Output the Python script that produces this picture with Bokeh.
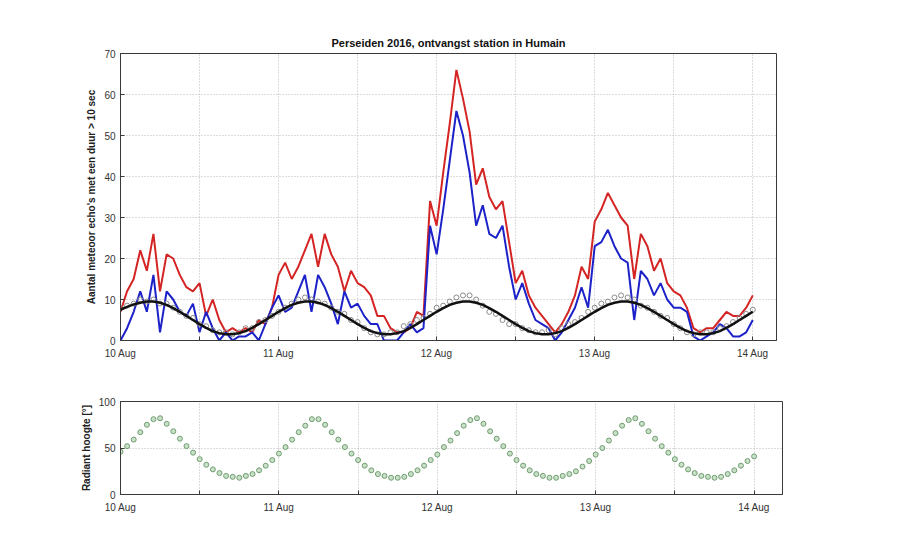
from bokeh.plotting import figure
from bokeh.models import FixedTicker, Range1d
from bokeh.layouts import column
from bokeh.embed import file_html
from bokeh.resources import INLINE

TITLE = "Perseiden 2016, ontvangst station in Humain"
YLABEL_TOP = "Aantal meteoor echo's met een duur > 10 sec"
YLABEL_BOT = "Radiant hoogte [°]"
day_labels = ["10 Aug", "11 Aug", "12 Aug", "13 Aug", "14 Aug"]

# hours since 10 Aug 2016 00:00
uur = list(range(97))

rood = [7, 12, 15, 22, 17, 26, 12, 21, 20, 16, 13, 12, 14, 6, 10, 5, 2, 3, 2, 3, 2, 5, 4, 8,
        16, 19, 15, 18, 22, 26, 18, 26, 21, 18, 12, 17, 14, 13, 11, 6, 6, 3, 2, 2, 3, 7, 6, 34,
        28, 41, 53, 66, 59, 51, 38, 42, 35, 32, 34, 24, 14, 17, 11, 8, 6, 4, 2, 4, 7, 11, 18, 15,
        29, 32, 36, 33, 30, 28, 15, 26, 23, 17, 20, 14, 12, 11, 8, 3, 2, 3, 3, 5, 7, 6, 6, 8,
        11]

blauw = [0, 3, 7, 12, 7, 16, 2, 12, 10, 7, 6, 9, 2, 7, 3, 0, 2, 0, 1, 1, 2, 0, 4, 8,
         11, 7, 8, 12, 16, 7, 16, 13, 9, 4, 12, 8, 9, 6, 4, 4, 0, 0, 0, 2, 4, 2, 3, 28,
         21, 32, 44, 56, 50, 41, 28, 33, 26, 25, 28, 18, 10, 14, 9, 5, 4, 3, 0, 2, 5, 8, 13, 8,
         23, 24, 27, 23, 20, 19, 5, 17, 15, 11, 14, 10, 8, 8, 7, 1, 0, 1, 2, 4, 3, 1, 1, 2,
         5]

grijs = [8, 8.5, 9, 10, 9.5, 10, 9, 9, 8, 7, 6, 5.5, 4, 3.5, 2.5, 2, 2, 1.5, 2, 3, 3, 4.5, 5, 6,
         7, 8, 9, 10, 10.5, 10, 9.5, 9, 8, 7, 6.5, 5, 4.5, 3, 2, 1.5, 1.5, 2, 2, 3.5, 4, 5, 5.5, 6.5,
         8, 8.5, 9.5, 10.5, 11, 11, 10, 8.5, 7, 6.5, 5, 4, 4, 3, 2.5, 2, 2, 2.5, 1.5, 3, 4, 4.5, 5.5, 7,
         8, 9, 9.5, 10.5, 11, 10.5, 10, 8.5, 8, 7, 6, 5.5, 4, 3, 2, 1.5, 2, 2, 2, 3, 3.5, 4.5, 5.5, 6.5,
         7.5]

model = [7.5, 8.2, 8.8, 9.2, 9.5, 9.5, 9.2, 8.7, 7.9, 7.0, 6.0, 5.0, 4.0, 3.1, 2.3, 1.8, 1.5, 1.5, 1.8, 2.3, 3.1, 4.0, 5.0, 6.0,
         7.0, 7.9, 8.7, 9.2, 9.5, 9.5, 9.2, 8.7, 7.9, 7.0, 6.0, 5.0, 4.0, 3.1, 2.3, 1.8, 1.5, 1.5, 1.8, 2.3, 3.1, 4.0, 5.0, 6.0,
         7.0, 7.9, 8.7, 9.2, 9.5, 9.5, 9.2, 8.7, 7.9, 7.0, 6.0, 5.0, 4.0, 3.1, 2.3, 1.8, 1.5, 1.5, 1.8, 2.3, 3.1, 4.0, 5.0, 6.0,
         7.0, 7.9, 8.7, 9.2, 9.5, 9.5, 9.2, 8.7, 7.9, 7.0, 6.0, 5.0, 4.0, 3.1, 2.3, 1.8, 1.5, 1.5, 1.8, 2.3, 3.1, 4.0, 5.0, 6.0,
         7.0]

radiant = [46, 52, 59, 67, 75, 81, 82, 76, 68, 60, 52, 45, 38, 32, 27, 23, 20, 19, 18, 20, 22, 26, 31, 37,
           44, 51, 59, 67, 74, 81, 81, 75, 67, 59, 51, 44, 37, 31, 26, 22, 20, 18, 18, 19, 22, 26, 31, 37,
           43, 51, 58, 66, 74, 80, 82, 76, 68, 60, 52, 44, 37, 31, 26, 22, 20, 18, 18, 20, 22, 25, 30, 36,
           43, 50, 58, 66, 74, 80, 82, 76, 68, 60, 52, 45, 38, 32, 27, 23, 20, 19, 18, 19, 22, 26, 31, 36,
           41]

FONT = "Liberation Sans"
day_ticks = [i * 24 for i in range(len(day_labels))]
half_ticks = [t + 12 for t in day_ticks[:-1]]
grid_ticks = sorted(day_ticks + half_ticks)
xlabels = {t: lab for t, lab in zip(day_ticks, day_labels)}


def style(p, yticks):
    p.outline_line_color = "#3a3a3a"
    p.outline_line_width = 1
    p.background_fill_color = "white"
    p.border_fill_color = "white"
    for ax in (p.xaxis[0], p.yaxis[0]):
        ax.axis_line_color = "#3a3a3a"
        ax.major_tick_line_color = "#3a3a3a"
        ax.minor_tick_line_color = "#3a3a3a"
        ax.major_tick_in = 4
        ax.major_tick_out = 0
        ax.minor_tick_in = 4
        ax.minor_tick_out = 0
        ax.major_label_text_font = FONT
        ax.major_label_text_font_size = "10px"
        ax.major_label_text_color = "#333333"
    p.xaxis.major_label_standoff = 7
    p.yaxis.major_label_standoff = 5
    p.xaxis.ticker = FixedTicker(ticks=day_ticks, minor_ticks=half_ticks)
    p.xaxis.major_label_overrides = xlabels
    p.yaxis.ticker = FixedTicker(ticks=yticks)
    p.yaxis.minor_tick_line_color = None
    p.yaxis.axis_label_text_font = FONT
    p.yaxis.axis_label_text_font_style = "bold"
    p.yaxis.axis_label_text_font_size = "10px"
    p.yaxis.axis_label_text_color = "#222222"
    p.yaxis.axis_label_standoff = 4
    for g in (p.xgrid[0], p.ygrid[0]):
        g.grid_line_color = "#b8b8b8"
        g.grid_line_dash = "1 2"
        g.grid_line_width = 1
    p.xgrid.ticker = FixedTicker(ticks=grid_ticks)
    p.ygrid.ticker = FixedTicker(ticks=yticks)


p1 = figure(width=796, height=370, x_range=Range1d(0, 99.6), y_range=Range1d(0, 70),
            output_backend="svg", toolbar_location=None,
            min_border_left=119, min_border_right=20, min_border_top=53, min_border_bottom=30)
p1.title.text = TITLE
p1.title.align = "center"
p1.title.text_font = FONT
p1.title.text_font_size = "11px"
p1.title.text_font_style = "bold"
p1.title.text_color = "#111111"
p1.title.standoff = 9
style(p1, list(range(0, 71, 10)))
p1.yaxis[0].axis_label = YLABEL_TOP

p1.line(uur, rood, line_color="#d42424", line_width=2)
p1.line(uur, blauw, line_color="#1c22c8", line_width=2)
p1.scatter(uur, grijs, marker="circle", size=5, line_color="#8a8a8a", fill_color=None, line_width=1)
p1.line(uur, model, line_color="#111111", line_width=2.5)

p2 = figure(width=802, height=154, x_range=Range1d(0, 100.3), y_range=Range1d(0, 100),
            output_backend="svg", toolbar_location=None,
            min_border_left=120, min_border_right=20, min_border_top=31, min_border_bottom=30)
style(p2, [0, 50, 100])
p2.yaxis[0].axis_label = YLABEL_BOT
p2.scatter(uur, radiant, marker="circle", size=5, line_color="#6f9f6f", fill_color="#c9dfc9",
           line_width=1)

layout = column(p1, p2, spacing=0)
open("out.html", "w").write(file_html(layout, INLINE))
